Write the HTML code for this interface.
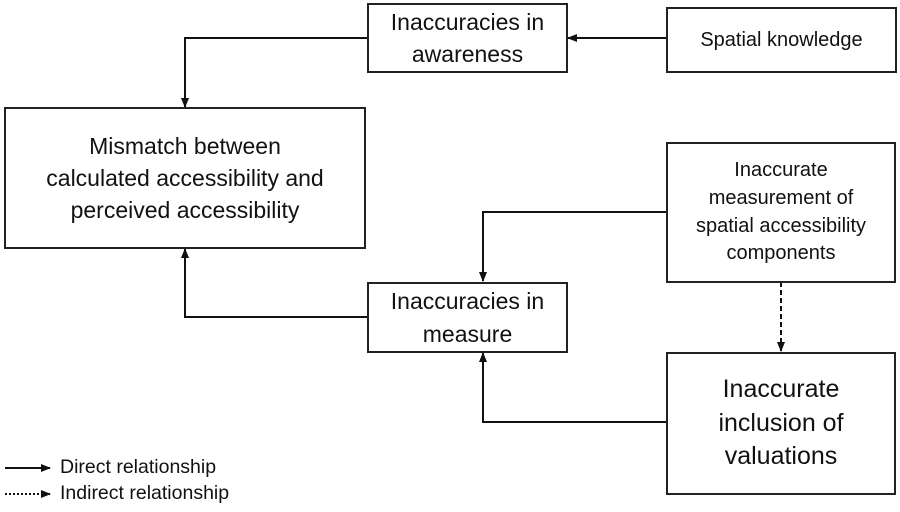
<!DOCTYPE html>
<html><head><meta charset="utf-8"><style>
body{margin:0;width:900px;height:512px;background:#fff;overflow:hidden;font-family:"Liberation Sans",Arial,sans-serif}
.b{position:absolute;border:2px solid #222;box-sizing:border-box;display:flex;align-items:center;justify-content:center;text-align:center;color:#111;line-height:1.4}
.l{position:absolute;font-size:19.5px;color:#111}
</style></head><body>
<svg width="900" height="512" style="position:absolute;left:0;top:0">
<defs><marker id="a" markerWidth="10" markerHeight="10" refX="9" refY="5" orient="auto" markerUnits="userSpaceOnUse"><path d="M0,1 L10,5 L0,9 z" fill="#111"/></marker></defs>
<g stroke="#111" stroke-width="2" fill="none">
<polyline points="368,38 185,38 185,107" marker-end="url(#a)"/>
<line x1="667" y1="38" x2="568" y2="38" marker-end="url(#a)"/>
<polyline points="667,212 483,212 483,281" marker-end="url(#a)"/>
<polyline points="368,317 185,317 185,249" marker-end="url(#a)"/>
<polyline points="667,422 483,422 483,353" marker-end="url(#a)"/>
<line x1="781" y1="282" x2="781" y2="351" stroke-dasharray="5,3" marker-end="url(#a)"/>
<line x1="5" y1="468" x2="50" y2="468" marker-end="url(#a)"/>
<line x1="5" y1="494" x2="50" y2="494" stroke-dasharray="2,2" marker-end="url(#a)"/>
</g></svg>
<div class="b" style="left:367px;top:3px;width:201px;height:70px;font-size:23px">Inaccuracies in<br>awareness</div>
<div class="b" style="left:666px;top:7px;width:231px;height:66px;font-size:20px">Spatial knowledge</div>
<div class="b" style="left:4px;top:107px;width:362px;height:142px;font-size:23px">Mismatch between<br>calculated accessibility and<br>perceived accessibility</div>
<div class="b" style="left:666px;top:142px;width:230px;height:141px;font-size:20px;line-height:1.38">Inaccurate<br>measurement of<br>spatial accessibility<br>components</div>
<div class="b" style="left:367px;top:282px;width:201px;height:71px;font-size:23px">Inaccuracies in<br>measure</div>
<div class="b" style="left:666px;top:352px;width:230px;height:143px;font-size:25px;line-height:1.34">Inaccurate<br>inclusion of<br>valuations</div>
<div class="l" style="left:60px;top:456px">Direct relationship</div>
<div class="l" style="left:60px;top:482px">Indirect relationship</div>
</body></html>
